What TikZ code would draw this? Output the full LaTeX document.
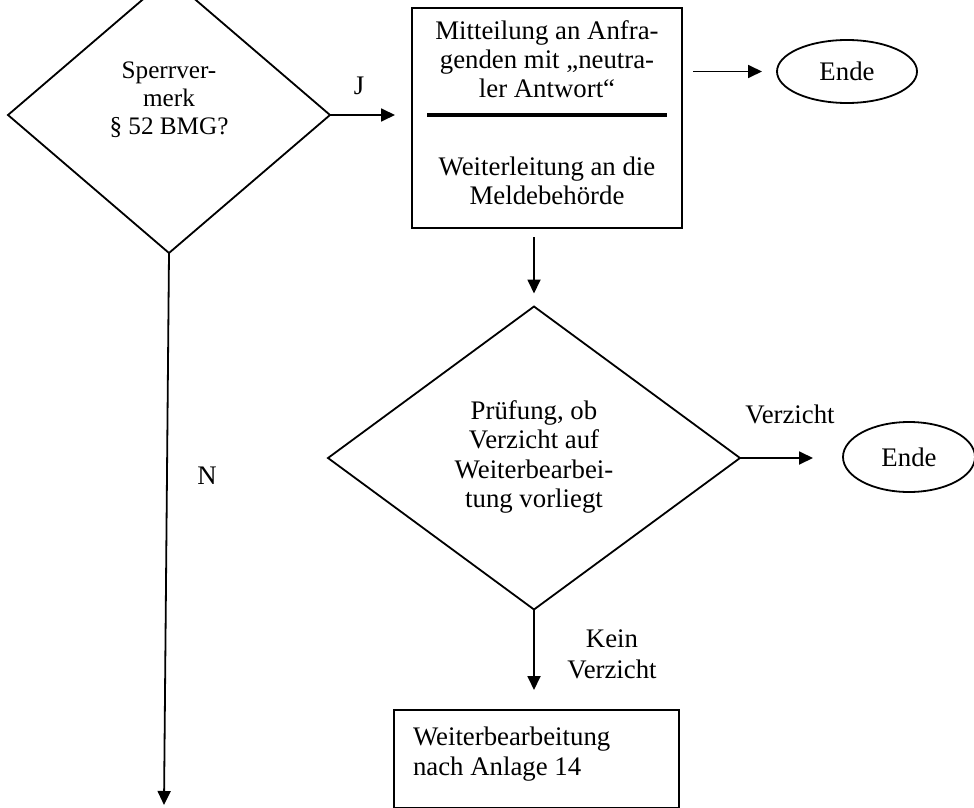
\documentclass[tikz,border=0pt]{standalone}
\usepackage{fontspec}
\setmainfont{Liberation Serif}
\usetikzlibrary{shapes.geometric,arrows.meta}
\begin{document}
\begin{tikzpicture}[x=0.5pt,y=-0.5pt,
  line width=0.9pt,
  every node/.style={inner sep=0pt,outer sep=0pt},
  dia/.style={draw,shape=diamond,inner sep=0pt},
  box/.style={draw,rectangle},
  oval/.style={draw,ellipse,font=\fontsize{13.4}{14}\selectfont},
  txt/.style={align=center,font=\fontsize{13.4}{#1}\selectfont},
  txt/.default=14pt,
  lbl/.style={anchor=base,font=\fontsize{13.4}{14}\selectfont},
  arr/.style={-{Triangle[length=7pt,width=6.5pt]}},
]
\useasboundingbox (0,0) rectangle (974,808);

% shapes
\node[dia,minimum width=161pt,minimum height=138pt] (d1) at (169,115) {};
\node[box,minimum width=135pt,minimum height=110pt] (box1) at (547,118) {};
\node[oval,minimum width=70pt,minimum height=31.5pt] (ende1) at (847,71.5) {Ende};
\node[dia,minimum width=206pt,minimum height=151.5pt] (d2) at (534,458) {};
\node[oval,minimum width=66pt,minimum height=35pt] (ende2) at (909,457) {Ende};
\node[box,minimum width=142.5pt,minimum height=48.75pt] (box3) at (536.5,758.75) {};

% texts
\node[txt=14pt,font=\fontsize{12.6}{14}\selectfont] (d1t) at (169,100.4) {Sperrver-\strut\\merk\strut\\§ 52 BMG?\strut};
\node[txt=13.25pt] (b1a) at (547,63) {Mitteilung an Anfra-\strut\\genden mit „neutra-\strut\\ler Antwort“\strut};
\node[txt=13.25pt] (b1b) at (547,184.7) {Weiterleitung an die\strut\\Meldebehörde\strut};
\node[txt=14.65pt] (d2t) at (534,457.6) {Prüfung, ob\strut\\Verzicht auf\strut\\Weiterbearbei-\strut\\tung vorliegt\strut};
\node[txt=15pt,align=left,anchor=west] (b3t) at (413,754) {Weiterbearbeitung\strut\\nach Anlage 14\strut};

% separator in box 1
\coordinate (sepL) at (427,115);
\coordinate (sepR) at (667,115);
\draw[line width=1.6pt] (sepL) -- (sepR);

% labels
\node[lbl] (lJ) at (359,95) {J};
\node[lbl] (lN) at (207,484) {N};
\node[lbl] (lV) at (790,423) {Verzicht};
\node[txt=15.5pt] (lKV) at (612,656.3) {Kein\strut\\Verzicht\strut};

% connectors
\coordinate (nend) at (164,805);
\draw[arr,shorten >=8.5pt] (d1.east) -- (box1.west |- d1.east);
\draw[arr,shorten <=5.5pt,shorten >=7.5pt] (box1.east |- ende1.west) -- (ende1.west);
\draw[arr,shorten <=4.5pt,shorten >=6.5pt] (d2.north |- box1.south) -- (d2.north);
\draw[arr,shorten >=15pt] (d2.east) -- (d2.east -| ende2.west);
\draw[arr,shorten >=10pt] (d2.south) -- (d2.south |- box3.north);
\draw[arr] (d1.south) -- (nend);
\end{tikzpicture}
\end{document}
